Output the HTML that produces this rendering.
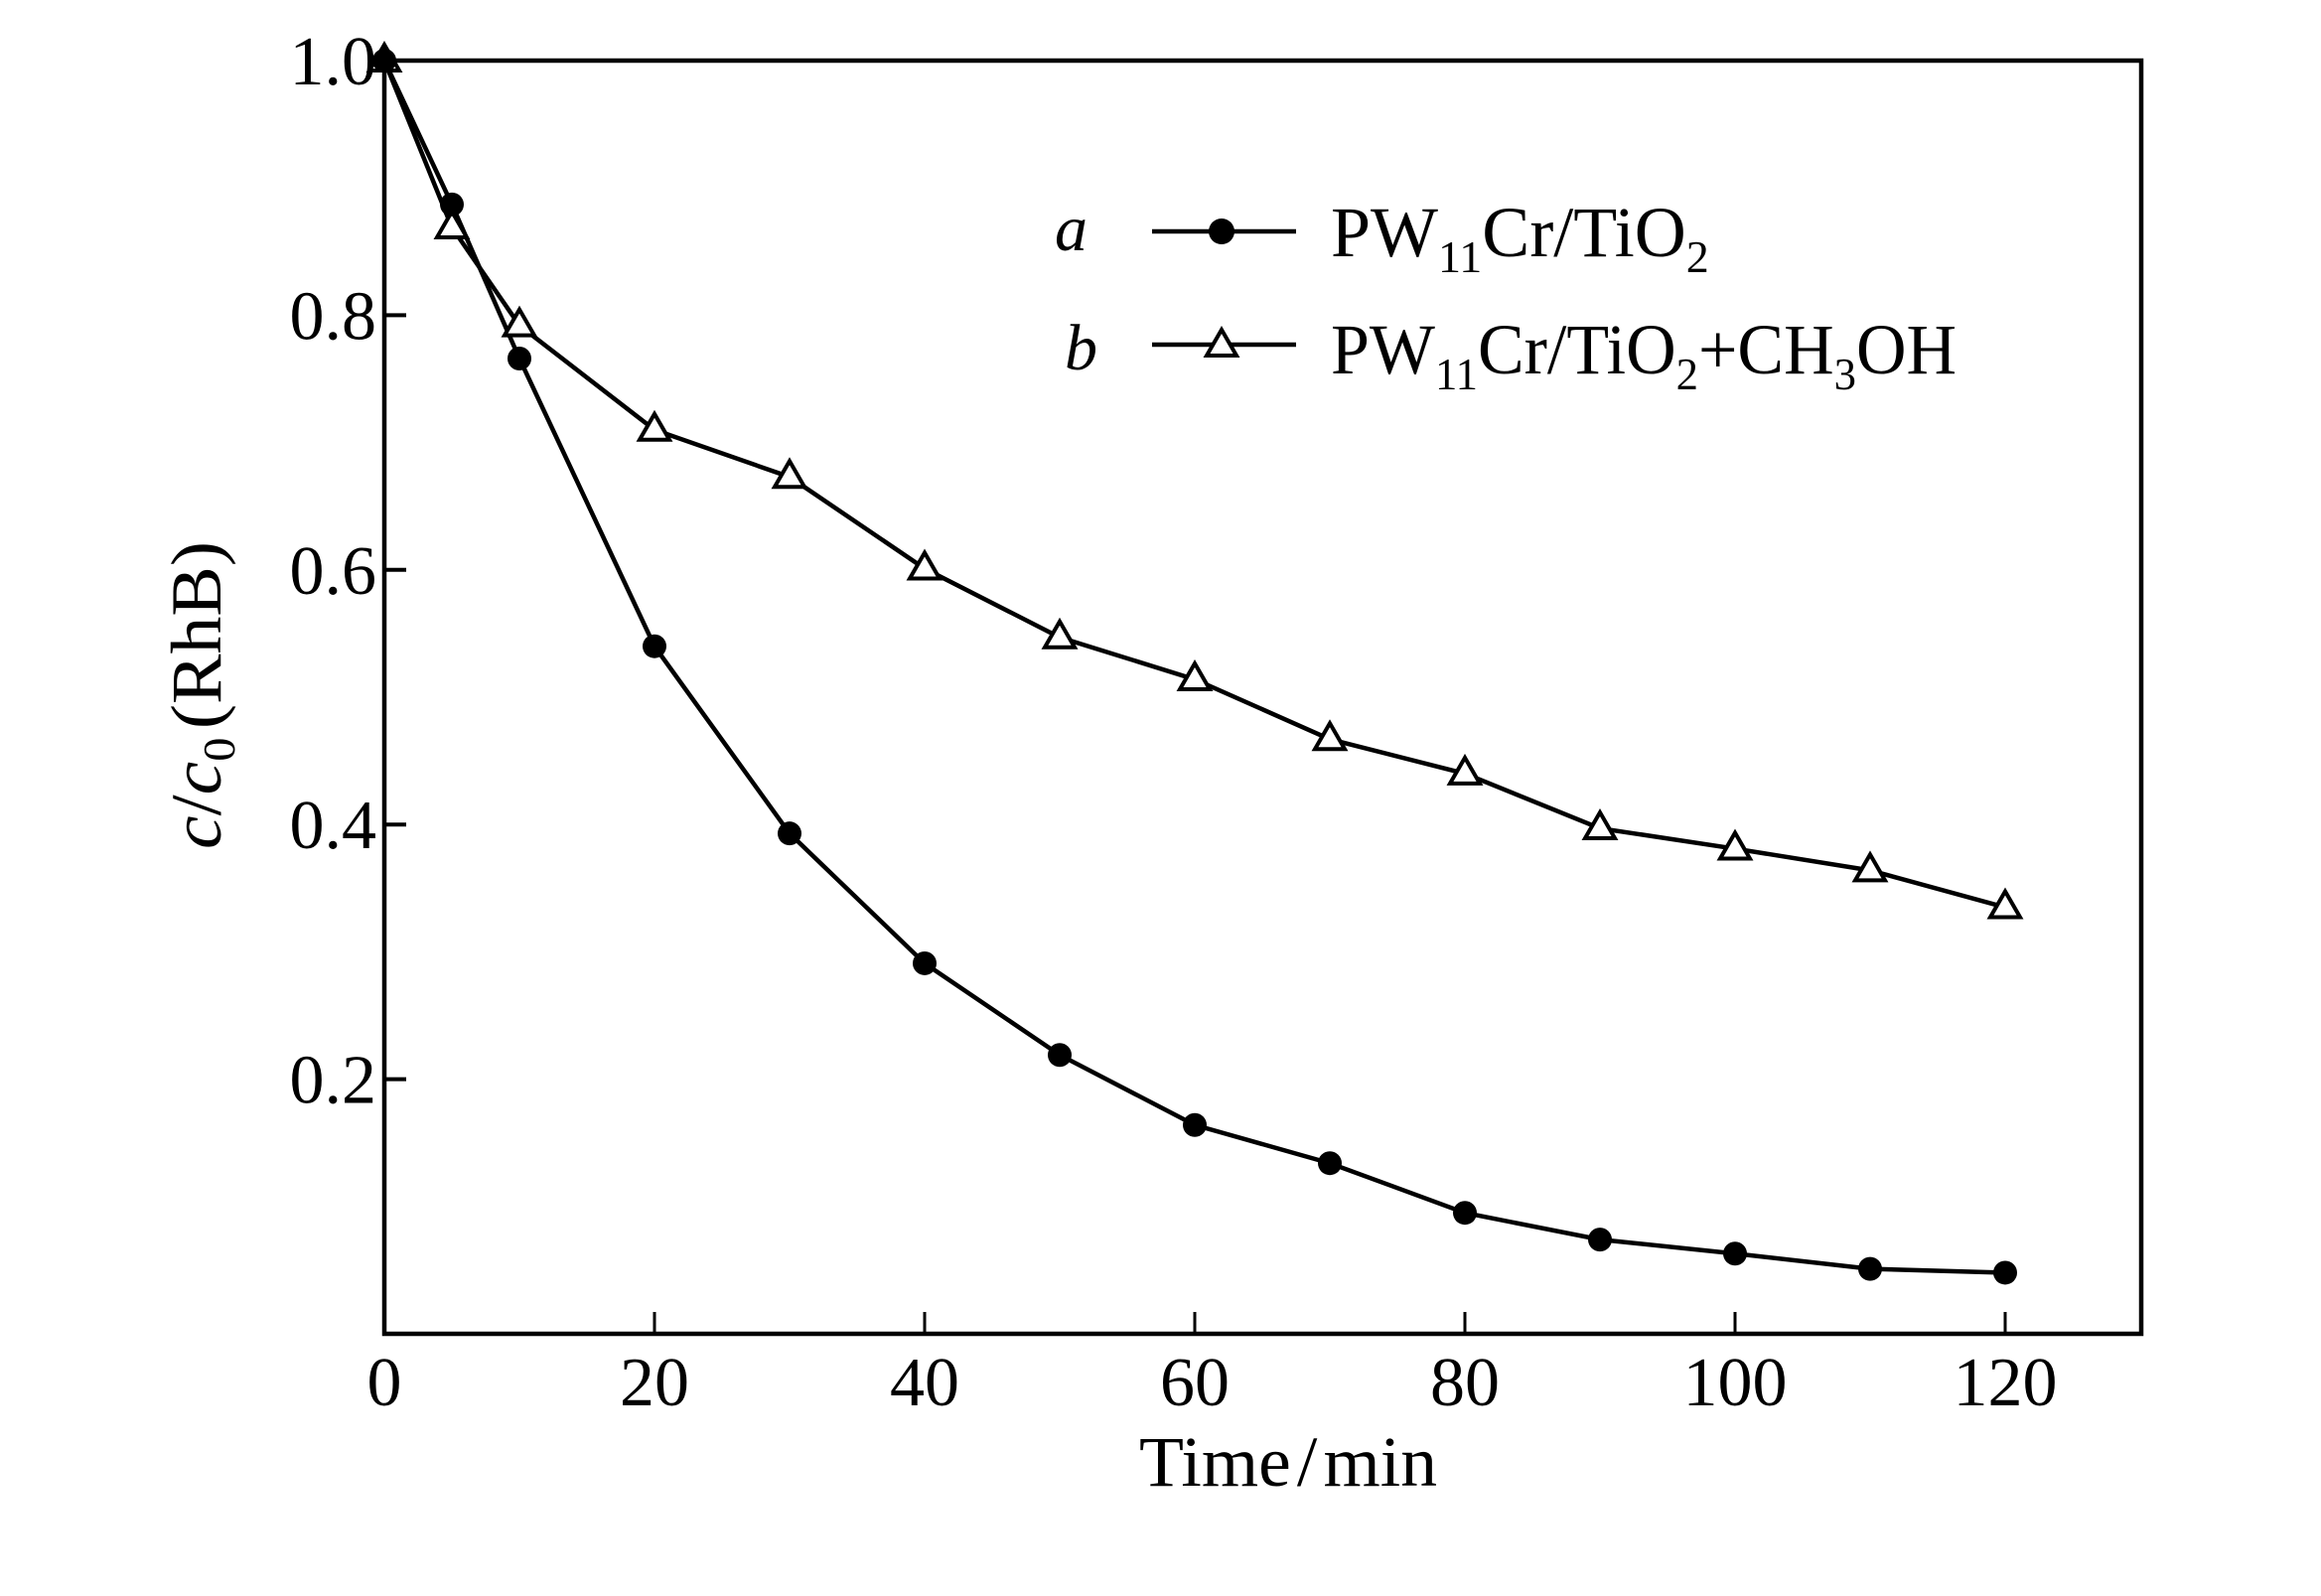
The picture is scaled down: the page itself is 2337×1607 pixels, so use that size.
<!DOCTYPE html>
<html><head><meta charset="utf-8"><style>
html,body{margin:0;padding:0;background:#fff}
svg{display:block}
text{font-family:"Liberation Serif",serif;fill:#000}
</style></head><body>
<svg id="chart" width="2337" height="1607" viewBox="0 0 2337 1607" xmlns="http://www.w3.org/2000/svg">
<g id="axes"></g>
<g id="series"></g>
<g id="legend">
<text x="1062" y="252" font-size="66" font-style="italic">a</text>
<line x1="1160" y1="233" x2="1305" y2="233" stroke="#000" stroke-width="4.5"/>
<circle cx="1230" cy="233" r="13" fill="#000"/>
<text x="1340" y="258" font-size="72">PW<tspan font-size="46" dy="16">11</tspan><tspan dy="-16">Cr/TiO</tspan><tspan font-size="46" dy="16">2</tspan></text>
<text x="1072" y="372" font-size="66" font-style="italic">b</text>
<line x1="1160" y1="347" x2="1305" y2="347" stroke="#000" stroke-width="4.5"/>
<polygon points="1230,332 1245,358 1215,358" fill="#fff" stroke="#000" stroke-width="4"/>
<text x="1340" y="376" font-size="72" textLength="630" lengthAdjust="spacingAndGlyphs">PW<tspan font-size="46" dy="16">11</tspan><tspan dy="-16">Cr/TiO</tspan><tspan font-size="46" dy="16">2</tspan><tspan dy="-16">+CH</tspan><tspan font-size="46" dy="16">3</tspan><tspan dy="-16">OH</tspan></text>
</g>
<text x="1297" y="1496" font-size="72" text-anchor="middle" textLength="300" lengthAdjust="spacingAndGlyphs">Time<tspan dx="6">/</tspan><tspan dx="6">min</tspan></text>
<text transform="translate(222,700) rotate(-90)" font-size="72" text-anchor="middle" textLength="310" lengthAdjust="spacingAndGlyphs"><tspan font-style="italic">c</tspan>/<tspan font-style="italic">c</tspan><tspan font-size="46" dy="14">0</tspan><tspan dy="-14" dx="8">(RhB)</tspan></text>
</svg>
<script>
const times=[0,5,10,20,30,40,50,60,70,80,90,100,110,120];
const seriesA=[1.0,0.887,0.766,0.540,0.393,0.291,0.219,0.164,0.134,0.095,0.074,0.063,0.051,0.048];
const seriesB=[1.0,0.869,0.792,0.710,0.673,0.601,0.547,0.514,0.467,0.440,0.397,0.381,0.364,0.335];
const xTicks=[0,20,40,60,80,100,120];
const yTicks=[0.2,0.4,0.6,0.8,1.0];
const yTickLabels=["0.2","0.4","0.6","0.8","1.0"];

const X0=387,X1=2019,Y0=1343,Y1=61,XR=2156;
const xs=v=>X0+(v/120)*(X1-X0);
const ys=v=>Y0-v*(Y0-Y1);
const NS="http://www.w3.org/2000/svg";
function mk(tag,attrs,parent){const e=document.createElementNS(NS,tag);for(const k in attrs)e.setAttribute(k,attrs[k]);parent.appendChild(e);return e;}
const axes=document.getElementById('axes');
const frame=mk('rect',{x:X0,y:Y1,width:XR-X0,height:Y0-Y1,fill:'none',stroke:'#000','stroke-width':4.5},axes);


xTicks.forEach(t=>{
  const l=mk('line',{x1:xs(t),x2:xs(t),y1:Y0,y2:Y0-22,stroke:'#000','stroke-width':3},axes);
  
  
  const tx=mk('text',{x:xs(t),y:Y0+72,'font-size':70,'text-anchor':'middle'},axes);
  tx.textContent=String(t);
  
  
});
yTicks.forEach((t,i)=>{
  const l=mk('line',{x1:X0,x2:X0+22,y1:ys(t),y2:ys(t),stroke:'#000','stroke-width':4},axes);
  
  
  const tx=mk('text',{x:X0-8,y:ys(t)+24,'font-size':70,'text-anchor':'end'},axes);
  tx.textContent=yTickLabels[i];
  
  
});
const sg=document.getElementById('series');
function drawLine(vals,name){
  const p=mk('polyline',{points:times.map((t,i)=>xs(t)+','+ys(vals[i])).join(' '),fill:'none',stroke:'#000','stroke-width':4.5},sg);
  
  
}
drawLine(seriesB,'line-b');
drawLine(seriesA,'line-a');
times.forEach((t,i)=>{
  const x=xs(t),y=ys(seriesB[i]);
  const tri=mk('polygon',{points:`${x},${y-16} ${x+15},${y+10} ${x-15},${y+10}`,fill:'#fff',stroke:'#000','stroke-width':4},sg);
  
  
});
times.forEach((t,i)=>{
  const c=mk('circle',{cx:xs(t),cy:ys(seriesA[i]),r:12,fill:'#000'},sg);
  
  
});
</script>
</body></html>
